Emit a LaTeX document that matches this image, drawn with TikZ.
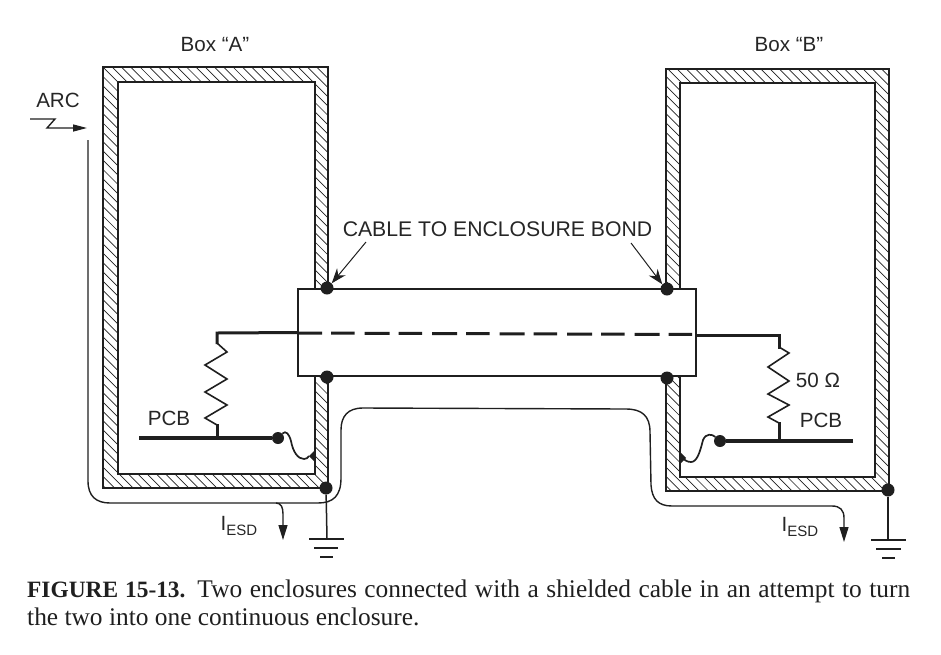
\documentclass[tikz,border=0pt]{standalone}
\usepackage{fontspec}
\setmainfont{Liberation Serif}
\newfontfamily\labelfont{Liberation Sans}
\usetikzlibrary{arrows.meta}
\begin{document}
\begin{tikzpicture}[x=1pt,y=-1pt,
    ink/.style={color=black!88},
    wall/.style={ink,line width=2pt},
    hatch/.style={ink,line width=0.7pt},
    bond/.style={circle,fill=black!88,inner sep=0pt,minimum size=13pt},
    lbl/.style={inner sep=0pt,text=black!85,font=\labelfont\fontsize{20.6}{24}\selectfont},
    wire/.style={ink,line width=1.4pt},
    lead/.style={ink,line width=3pt},
    board/.style={ink,line width=3.8pt},
    zigzag/.style={ink,line width=1.6pt,line join=miter},
    gnd/.style={ink,line width=1.5pt},
    esd/.style={wire,-{Triangle[length=15pt,width=9pt]}},
    callout/.style={ink,line width=1pt,-{Stealth[length=15pt,width=11pt]}}]
  \useasboundingbox (0,0) rectangle (941,654);

  \begin{scope}
    \clip (103,67) rectangle (328,488);
    \foreach \hx in {-325,-315.7,...,328}
      \draw[hatch] (\hx,67) -- ++(425,425);
  \end{scope}
  \draw[wall] (103,67) rectangle (328,488);
  \draw[wall,fill=white] (118,82) rectangle (315,474);
  \begin{scope}
    \clip (666,69) rectangle (889,491);
    \foreach \hx in {240,249.3,...,889}
      \draw[hatch] (\hx,69) -- ++(425,425);
  \end{scope}
  \draw[wall] (666,69) rectangle (889,491);
  \draw[wall,fill=white] (680,83) rectangle (875,477);

  \node[ink,draw,line width=1.6pt,fill=white,minimum width=398pt,minimum height=87pt,inner sep=0pt] (cable) at (497,332.5) {};

  \node[bond] (bondAt) at (327,288) {};
  \node[bond] (bondBt) at (667,289) {};
  \node[bond] (bondAb) at (327,377) {};
  \node[bond] (bondBb) at (667,378) {};
  \node[bond] (cornerA) at (326,488) {};
  \node[bond] (cornerB) at (888,490) {};
  \node[bond,minimum size=12pt] (pcbAend) at (278,438) {};
  \node[bond,minimum size=12pt] (pcbBend) at (720,441) {};
  \coordinate (lugA) at (309,456);
  \coordinate (lugB) at (686,458);
  \fill[ink] (lugA) -- (315,450) -- (315,462) -- cycle;
  \fill[ink] (lugB) -- (680,452) -- (680,464) -- cycle;

  \node[lbl] (boxA) at (215,45) {Box “A”};
  \node[lbl] (boxB) at (789,45) {Box “B”};
  \node[lbl] (arc) at (58,100) {ARC};
  \node[lbl,font=\labelfont\fontsize{21.2}{24}\selectfont] (bondtxt) at (497.5,229) {CABLE TO ENCLOSURE BOND};
  \node[lbl] (pcbA) at (169,418) {PCB};
  \node[lbl] (pcbB) at (821,420) {PCB};
  \node[lbl] (ohms) at (818,380) {50 Ω};
  \node[lbl] (iesdA) at (239,526) {I\raisebox{-5pt}{\fontsize{15}{18}\selectfont ESD}};
  \node[lbl] (iesdB) at (800,527) {I\raisebox{-5pt}{\fontsize{15}{18}\selectfont ESD}};

  \coordinate (calloutA) at (366,242);
  \coordinate (calloutB) at (631,243);
  \draw[callout] (calloutA) -- (bondAt.45);
  \draw[callout] (calloutB) -- (bondBt.135);

  \coordinate (arcfrom) at (30,119);
  \coordinate (arcto) at (87,128);
  \draw[ink,line width=1.4pt,-{Triangle[length=14pt,width=7pt]}] (arcfrom) -- (55,119) -- (47,128) -- (arcto);

  \coordinate (wireA) at (88,140);
  \coordinate (tipB) at (844,542);
  \draw[esd] (wireA) -- (88,481) .. controls (88,496) and (96,503) .. (110,503)
    -- (318,503) .. controls (333,503) and (341,496) .. (341,478)
    -- (341,430) .. controls (341,416) and (348,408) .. (363,408)
    -- (626,409) .. controls (642,409) and (650,416) .. (650,432)
    -- (651,485) .. controls (652,499) and (658,506) .. (672,506)
    -- (832,506) .. controls (840,506) and (844,510) .. (844,518) -- (tipB);
  \coordinate (tapA) at (276,503);
  \coordinate (tipA) at (283,540);
  \draw[esd] (tapA) .. controls (281,503) and (283,507) .. (283,514) -- (tipA);

  \coordinate (shieldA) at (217,333);
  \coordinate (shieldB) at (779,335);
  \draw[lead,line join=miter] (217,344) -- (shieldA) -- (cable.west);
  \draw[lead,line join=miter] (cable.east) ++(0,2.5) -- (shieldB) -- (779,349);
  \draw[lead,dash pattern=on 25pt off 9pt on 23.5pt off 10pt] (cable.west) ++(0,0.5) -- (696,334.5);

  \draw[zigzag] (217,343) -- (227,352) -- (205,365) -- (227,379) -- (205,392) -- (227,405) -- (205,418) -- (217,425);
  \draw[zigzag] (779,347) -- (789,353) -- (768,367) -- (789,381) -- (768,394) -- (789,405) -- (768,417) -- (779,423);
  \draw[lead] (217,424) -- (217,438);
  \draw[lead] (779,422) -- (779,441);

  \coordinate (pcbAstart) at (139,438);
  \coordinate (pcbBstart) at (853,441);
  \draw[board] (pcbAstart) -- (pcbAend);
  \draw[board] (pcbBstart) -- (pcbBend);

  \draw[wire,line width=1.7pt] (pcbAend) .. controls (286,430) and (289,434) .. (291,441)
    .. controls (293,452) and (298,459) .. (304,459) .. controls (306,459) and (308,458) .. (lugA);
  \draw[wire,line width=1.7pt] (pcbBend) .. controls (712,434) and (706,433) .. (703,440)
    .. controls (700,452) and (697,462) .. (691,462) .. controls (687,462) and (685,460) .. (682,458);

  \coordinate (gndA) at (327,539);
  \coordinate (gndB) at (888,540);
  \draw[gnd] (cornerA) -- (gndA);
  \draw[gnd] (cornerB) -- (gndB);
  \draw[gnd] (309,539) -- (344,539) (314,548) -- (338,548) (320,557) -- (333,557);
  \draw[gnd] (871,540) -- (906,540) (876,549) -- (901,549) (882,558) -- (895,558);

  \node[inner sep=0pt,anchor=north west,text width=883pt,align=justify,text=black!88,
    font=\fontsize{25.4}{28}\selectfont] (caption) at (27,580)
    {{\fontsize{23.4}{28}\selectfont\textbf{FIGURE 15-13.}} Two enclosures connected with a shielded cable in an attempt to turn\linebreak the two into one continuous enclosure.};
\end{tikzpicture}
\end{document}
